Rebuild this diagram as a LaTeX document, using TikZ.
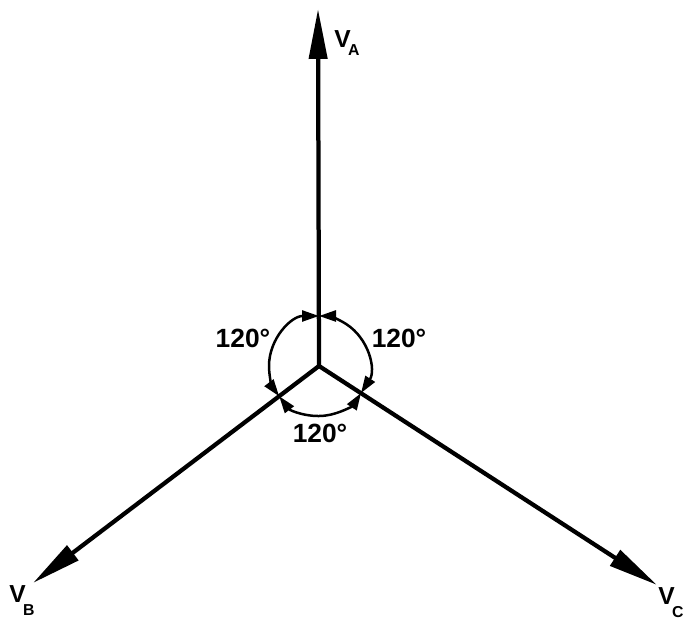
\documentclass[tikz,border=0pt]{standalone}
\usepackage{fontspec}
\setmainfont{Liberation Sans}
\usetikzlibrary{arrows.meta}
\begin{document}
\begin{tikzpicture}[x=0.02cm,y=0.02cm,
 phasor/.style={line width=0.085cm, -{Triangle[length=1.0cm,width=0.36cm]}},
 anglearc/.style={line width=0.05cm, {Triangle[length=0.34cm,width=0.22cm]}-{Triangle[length=0.34cm,width=0.22cm]}},
 lbl/.style={font=\fontsize{15}{15}\selectfont\bfseries, inner sep=0},
 vlbl/.style={font=\fontsize{14}{14}\selectfont\bfseries, inner sep=0, anchor=base west}]
\useasboundingbox (0,0) rectangle (685,624);
\coordinate (O) at (319,258);
\coordinate (A) at (318,615);
\coordinate (B) at (33,41);
\coordinate (C) at (657,39);
\draw[phasor] (O) -- (A);
\draw[phasor] (O) -- (B);
\draw[phasor] (O) -- (C);
\draw[anglearc] ([shift={(90:50)}]O) arc[start angle=90, end angle=217.2, radius=50];
\draw[anglearc] ([shift={(217.2:50)}]O) arc[start angle=217.2, end angle=327.2, radius=50];
\draw[anglearc] ([shift={(327.2:50)}]O) arc[start angle=327.2, end angle=450, radius=50];
\node[lbl] (angAB) at (243,286) {120°};
\node[lbl] (angAC) at (399,286) {120°};
\node[lbl] (angBC) at (320,191) {120°};
\node[vlbl] (labA) at (334,576) {V\kern-1.5pt\raisebox{-4pt}{\fontsize{9}{9}\selectfont A}};
\node[vlbl] (labB) at (9,21) {V\kern-1.5pt\raisebox{-7pt}{\fontsize{9}{9}\selectfont B}};
\node[vlbl] (labC) at (658,19) {V\kern-1.5pt\raisebox{-7pt}{\fontsize{9}{9}\selectfont C}};
\end{tikzpicture}
\end{document}
